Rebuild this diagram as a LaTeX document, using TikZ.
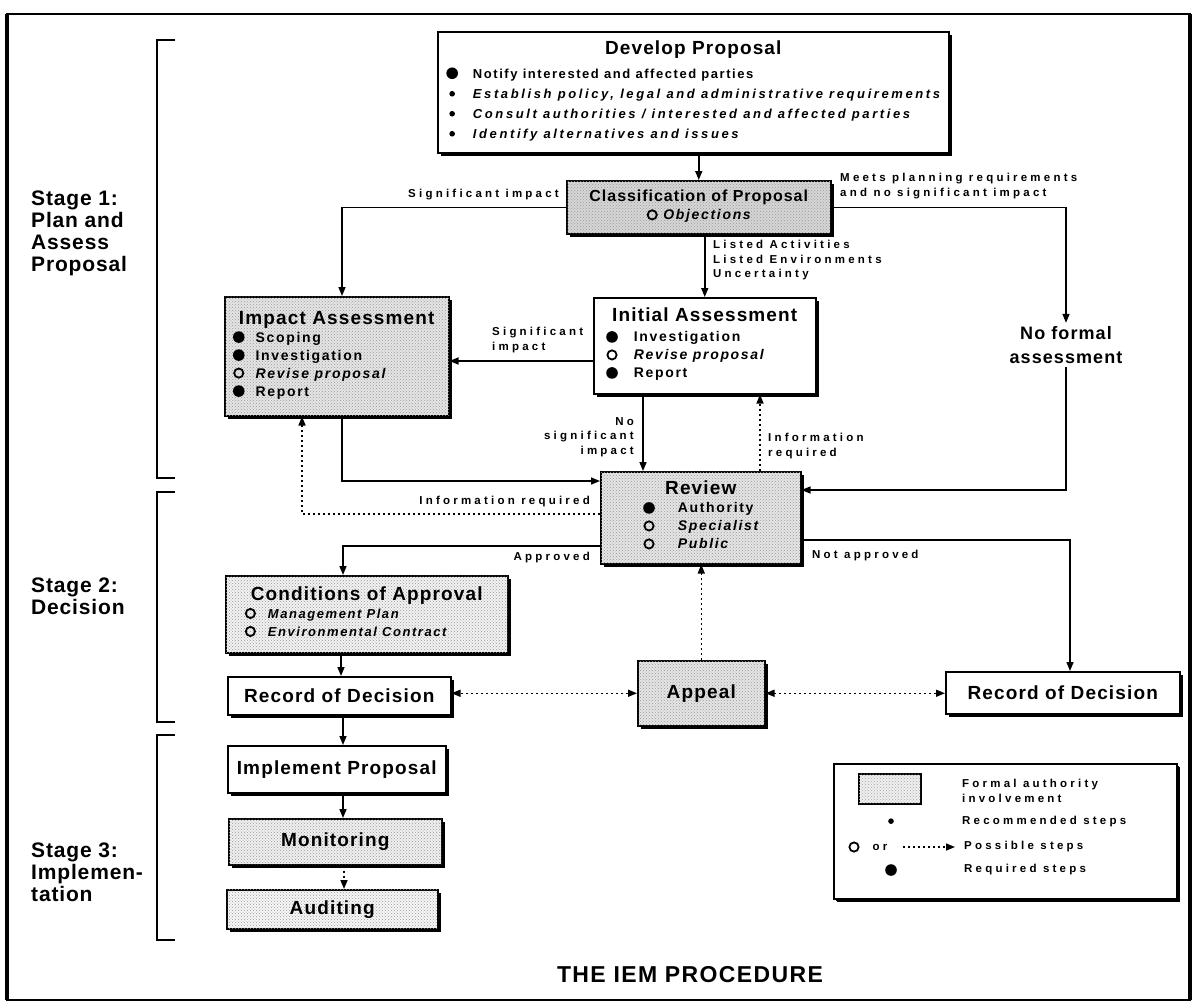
\documentclass[tikz,border=0pt]{standalone}
\usepackage{fontspec}
\setmainfont{Liberation Sans}
\newfontfamily\lblfont{Liberation Sans}[LetterSpace=28]
\newfontfamily\itemfont{Liberation Sans}[LetterSpace=12]
\newfontfamily\boxfont{Liberation Sans}[LetterSpace=6]
\newfontfamily\stagefont{Liberation Sans}[LetterSpace=4]
\usetikzlibrary{positioning,arrows.meta,shadows,patterns}

\newcommand\reqdot{\tikz[baseline=-5pt]\fill (0,0) circle (5.8pt);}
\newcommand\optdot{\tikz[baseline=-5pt]\draw[line width=1.8pt] (0,0) circle (4.6pt);}
\newcommand\recdot{\tikz[baseline=-4.5pt]\fill (0,0) circle (2.8pt);}
\newcommand\ttl{\boxfont\bfseries\fontsize{19}{22}\selectfont}

\tikzset{
  stagebox/.style={draw, line width=1.5pt, fill=white, anchor=north west, inner sep=0pt,
    drop shadow={shadow xshift=3pt, shadow yshift=-3pt, fill=black, opacity=1}},
  authbox/.style={stagebox, fill=black!10,
    postaction={pattern=crosshatch dots, pattern color=black!40}},
  flow/.style={line width=1.5pt, -{Triangle[length=9pt,width=7pt]}},
  maybe/.style={flow, dash pattern=on 2pt off 3pt},
  both/.style={maybe, {Triangle[length=9pt,width=7pt]}-{Triangle[length=9pt,width=7pt]}},
  lbl/.style={inner sep=0pt, font=\lblfont\bfseries\fontsize{11.5}{14.5}\selectfont},
  items/.style={font=\itemfont\bfseries\fontsize{14}{18}\selectfont},
  heading/.style={font=\ttl},
  stage/.style={anchor=west, align=left, inner sep=0pt, font=\stagefont\bfseries\fontsize{21}{22}\selectfont},
  bracket/.style={line width=1.2pt},
}

\begin{document}
\begin{tikzpicture}[x=1pt,y=-1pt]
\useasboundingbox (0,0) rectangle (1196,1005);
% frame
\draw[line width=2pt] (7,14) rectangle (1190,1000);
\draw[line width=4pt] (7,14) -- (7,1000) (1190,14) -- (1190,1000);

% stages
\draw[bracket] (175,40) -| (157,478) -- (175,478);
\draw[bracket] (175,492) -| (157,722) -- (175,722);
\draw[bracket] (175,735) -| (157,940) -- (175,940);
\node[stage] (st1) at (31,233) {Stage 1:\\Plan and\\Assess\\Proposal};
\node[stage] (st2) at (31,596) {Stage 2:\\Decision};
\node[stage] (st3) at (31,872) {Stage 3:\\Implemen-\\tation};

% boxes
\node[stagebox, minimum width=511, minimum height=121, font=\itemfont\bfseries\fontsize{13}{20}\selectfont] (develop) at (437,31) {%
  \begin{tabular}{@{}c@{\hspace{15pt}}l@{}}
  \multicolumn{2}{c}{\ttl Develop Proposal}\\[4pt]
  \reqdot & Notify interested and affected parties\\
  \recdot & \addfontfeature{LetterSpace=20}\itshape Establish policy, legal and administrative requirements\\
  \recdot & \addfontfeature{LetterSpace=20}\itshape Consult authorities / interested and affected parties\\
  \recdot & \addfontfeature{LetterSpace=20}\itshape Identify alternatives and issues
  \end{tabular}};
\node[authbox, fill=black!16, minimum width=264, minimum height=53, items] (classify) at (566,180) {%
  \begin{tabular}{@{}c@{}}
  {\boxfont\fontsize{16}{19}\selectfont Classification of Proposal}\\
  \optdot\ \itshape Objections
  \end{tabular}};
\node[authbox, minimum width=224, minimum height=119, items] (impact) at (224,296) {%
  \begin{tabular}{@{}c@{\hspace{11pt}}l@{}}
  \multicolumn{2}{c}{\ttl Impact Assessment}\\
  \reqdot & Scoping\\
  \reqdot & Investigation\\
  \optdot & \itshape Revise proposal\\
  \reqdot & Report
  \end{tabular}};
\node[stagebox, minimum width=222, minimum height=96, items] (initial) at (593,297) {%
  \begin{tabular}{@{}c@{\hspace{16pt}}l@{}}
  \multicolumn{2}{c}{\ttl Initial Assessment}\\[2pt]
  \reqdot & Investigation\\
  \optdot & \itshape Revise proposal\\
  \reqdot & Report
  \end{tabular}};
\node[align=center, font=\ttl\fontsize{18}{24}\selectfont] (nofa) at (1066,345) {No formal\\assessment};
\node[authbox, minimum width=200, minimum height=92, items] (review) at (600,471) {%
  \begin{tabular}{@{}c@{\hspace{23pt}}l@{}}
  \multicolumn{2}{c}{\ttl Review}\\
  \reqdot & Authority\\
  \optdot & \itshape Specialist\\
  \optdot & \itshape Public
  \end{tabular}};
\node[authbox, fill=black!5, minimum width=282, minimum height=77, items] (conditions) at (225,575) {%
  \begin{tabular}{@{}c@{\hspace{12pt}}l@{}}
  \multicolumn{2}{c}{\ttl Conditions of Approval}\\
  \optdot & \itshape\fontsize{13}{17}\selectfont Management Plan\\
  \optdot & \itshape\fontsize{13}{17}\selectfont Environmental Contract
  \end{tabular}};
\node[stagebox, minimum width=223, minimum height=38, heading] (recordl) at (227,676) {Record of Decision};
\node[authbox, minimum width=127, minimum height=65, heading] (appeal) at (637,660) {Appeal};
\node[stagebox, minimum width=234, minimum height=42, heading] (recordr) at (945,671) {Record of Decision};
\node[stagebox, minimum width=218, minimum height=47, heading] (implement) at (227,745) {Implement Proposal};
\node[authbox, fill=black!6, minimum width=213, minimum height=46, heading] (monitor) at (228,818) {Monitoring};
\node[authbox, fill=black!3, minimum width=211, minimum height=39, heading] (audit) at (226,889) {Auditing};

% connectors
\draw[flow] (develop.south -| classify) -- (classify);
\draw[flow] (classify.west) -| ([xshift=118pt]impact.north west);
\node[lbl, anchor=east] (sigl) at (559,195) {Significant impact};
\draw[flow] (classify.east) -| (nofa.north);
\node[lbl, anchor=west, align=left] (meets) at (840,186) {Meets planning requirements\\and no significant impact};
\draw[flow] (classify.south -| initial.north) -- (initial.north);
\node[lbl, anchor=north west, align=left] (listed) at (713,240) {Listed Activities\\Listed Environments\\Uncertainty};
\draw[flow] ([yshift=-64pt]initial.north west) -- ([yshift=-64pt]initial.north west -| impact.east);
\node[lbl, anchor=west, align=left] (sigm) at (492,340) {Significant\\impact};
\draw[flow] ([xshift=50pt]initial.south west) -- ([xshift=50pt]initial.south west |- review.north);
\node[lbl, anchor=east, align=right] (nosig) at (634,437) {No\\significant\\impact};
\draw[maybe] ([xshift=160pt]review.north west) -- ([xshift=160pt]review.north west |- initial.south);
\node[lbl, anchor=west, align=left] (infoa) at (768,446) {Information\\required};
\draw[flow] (nofa.south) |- ([yshift=-19pt]review.north east);
\draw[flow] ([xshift=118pt]impact.south west) |- ([yshift=-10pt]review.north west);
\draw[maybe] ([yshift=-43pt]review.north west) -| ([xshift=78pt]impact.south west);
\node[lbl, anchor=east] (infob) at (590,502) {Information required};
\draw[flow] ([yshift=-75pt]review.north west) -| ([xshift=118pt]conditions.north west);
\node[lbl, anchor=east] (appr) at (590,558) {Approved};
\draw[flow] ([yshift=-69pt]review.north east) -| ([xshift=125pt]recordr.north west);
\node[lbl, anchor=west] (notappr) at (812,556) {Not approved};
\draw[flow] ([xshift=116pt]conditions.south west) -- ([xshift=116pt]conditions.south west |- recordl.north);
\draw[flow] ([xshift=116pt]recordl.south west) -- ([xshift=116pt]recordl.south west |- implement.north);
\draw[flow] ([xshift=116pt]implement.south west) -- ([xshift=116pt]implement.south west |- monitor.north);
\draw[maybe] ([xshift=116pt]monitor.south west) -- ([xshift=116pt]monitor.south west |- audit.north);
\draw[maybe] (appeal.north) -- (appeal.north |- review.south);
\draw[both] (appeal.west) -- (appeal.west -| recordl.east);
\draw[both] (appeal.east) -- (appeal.east -| recordr.west);

% legend
\node[stagebox, minimum width=343, minimum height=135, drop shadow={shadow xshift=2pt, shadow yshift=-2pt, fill=black, opacity=1}] (legend) at (833,763) {};
\node[draw, line width=1.5pt, fill=black!6, postaction={pattern=crosshatch dots, pattern color=black!35}, anchor=north west, minimum width=62, minimum height=30] (keyauth) at (858,773) {};
\node[lbl, anchor=west, align=left] (keyauthl) at (962,791) {Formal authority\\involvement};
\node[inner sep=0pt] (keyrec) at (891,822) {\recdot};
\node[lbl, anchor=west] (keyrecl) at (962,822) {Recommended steps};
\node[inner sep=0pt] (keyopt) at (854,847) {\optdot};
\node[lbl] (keyor) at (880,847) {or};
\coordinate (keya) at (903,847);
\coordinate (keyb) at (955,847);
\draw[maybe] (keya) -- (keyb);
\node[lbl, anchor=west] (keyoptl) at (964,847) {Possible steps};
\node[inner sep=0pt] (keyreq) at (891,870) {\reqdot};
\node[lbl, anchor=west] (keyreql) at (964,870) {Required steps};

\node[font=\boxfont\bfseries\fontsize{23}{26}\selectfont] (title) at (690,975) {THE IEM PROCEDURE};
\end{tikzpicture}
\end{document}
